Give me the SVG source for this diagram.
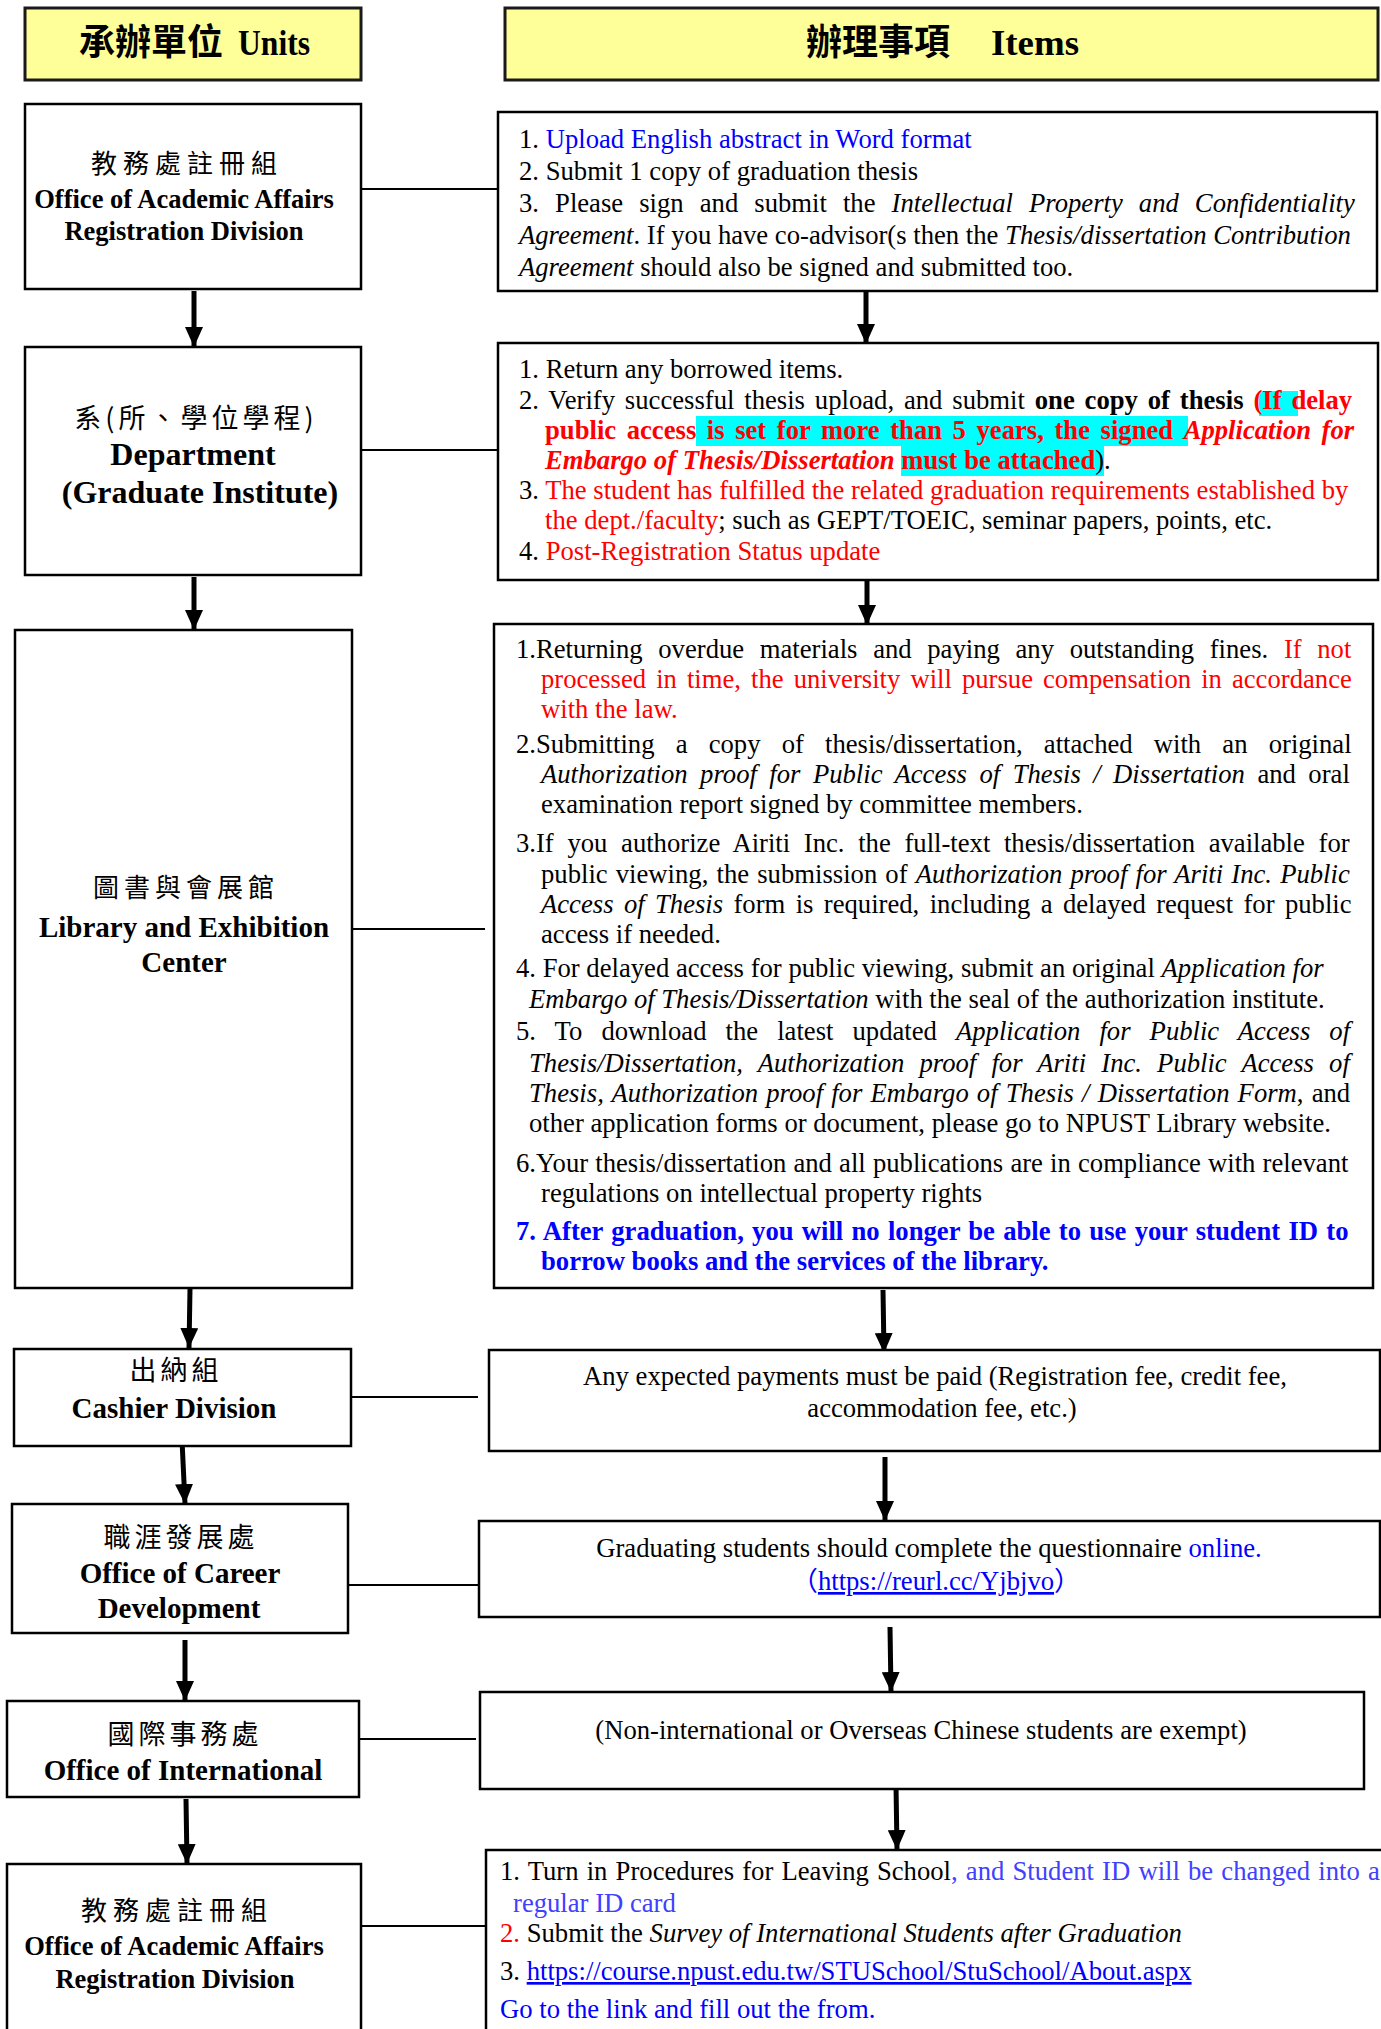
<svg xmlns="http://www.w3.org/2000/svg" width="1381" height="2029" viewBox="0 0 1381 2029">
<defs>
<marker id="ah" markerUnits="userSpaceOnUse" markerWidth="20" markerHeight="18" refX="20" refY="9" orient="auto">
<path d="M0,0 L20,9 L0,18 z" fill="#000"/>
</marker>
</defs>
<style>
.box{fill:#fff;stroke:#000;stroke-width:2.5}
.hdr{fill:#ffff99;stroke:#1a1a1a;stroke-width:3}
.t{font-family:"Liberation Serif","Noto Sans CJK TC",serif;font-size:26.67px;fill:#000}
.lb{font-family:"Liberation Serif","Noto Sans CJK TC",serif;font-weight:bold;fill:#000;text-anchor:middle}
.cj{font-family:"Noto Sans CJK TC",sans-serif;fill:#000;text-anchor:middle}
.hz{font-family:"Noto Sans CJK TC",sans-serif;font-weight:bold;font-size:36px;fill:#000}
.he{font-family:"Liberation Serif",serif;font-weight:bold;font-size:36px;fill:#000}
.i{font-style:italic}
.b{font-weight:bold}
.r{fill:#ff0000}
.bl{fill:#0000ff}
.bl2{fill:#4040ff}
.u{text-decoration:underline}
.hl{fill:#00ffff}
.conn line{stroke:#000;stroke-width:2}
.arr line{stroke:#000;stroke-width:5;marker-end:url(#ah)}
</style>
<rect width="1381" height="2029" fill="#fff"/>

<g id="header-units">
<rect class="hdr" x="25" y="8" width="336" height="72"/>
<text class="hz" x="79" y="55">承辦單位</text>
<text class="he" x="238" y="55" textLength="72" lengthAdjust="spacingAndGlyphs">Units</text>
</g>
<g id="header-items">
<rect class="hdr" x="505" y="8" width="873" height="72"/>
<text class="hz" x="806" y="55">辦理事項</text>
<text class="he" x="991" y="55" textLength="88" lengthAdjust="spacingAndGlyphs">Items</text>
</g>

<g class="conn" id="connectors">
<line x1="361" y1="189" x2="498" y2="189"/>
<line x1="361" y1="450" x2="498" y2="450"/>
<line x1="352" y1="929" x2="485" y2="929"/>
<line x1="351" y1="1397" x2="478" y2="1397"/>
<line x1="348" y1="1585" x2="479" y2="1585"/>
<line x1="359" y1="1739" x2="476" y2="1739"/>
<line x1="361" y1="1926" x2="489" y2="1926"/>
</g>
<g class="arr" id="arrows">
<line x1="194" y1="291" x2="194" y2="347"/>
<line x1="866" y1="292" x2="866" y2="344"/>
<line x1="194" y1="577" x2="194" y2="630"/>
<line x1="867" y1="581" x2="867" y2="625"/>
<line x1="190" y1="1289" x2="189" y2="1348"/>
<line x1="883" y1="1290" x2="884" y2="1353"/>
<line x1="182" y1="1440" x2="185" y2="1504"/>
<line x1="885" y1="1457" x2="885" y2="1521"/>
<line x1="185" y1="1640" x2="185" y2="1701"/>
<line x1="890" y1="1627" x2="891" y2="1692"/>
<line x1="186" y1="1799" x2="187" y2="1864"/>
<line x1="896" y1="1785" x2="897" y2="1850"/>
</g>

<g id="unit-academic-1">
<rect class="box" x="25" y="104" width="336" height="185"/>
<text class="cj" x="187" y="173" font-size="26" letter-spacing="6">教務處註冊組</text>
<text class="lb" x="184" y="208" font-size="26.5">Office of Academic Affairs</text>
<text class="lb" x="184" y="240" font-size="26.5">Registration Division</text>
</g>
<g id="items-academic-1">
<rect class="box" x="498" y="112" width="879" height="179"/>
<text class="t" x="519" y="148">1. <tspan class="bl">Upload English abstract in Word format</tspan></text>
<text class="t" x="519" y="180">2. Submit 1 copy of graduation thesis</text>
<text class="t" x="519" y="212" word-spacing="9.4">3. Please sign and submit the <tspan class="i">Intellectual Property and Confidentiality</tspan></text>
<text class="t" x="519" y="244"><tspan class="i">Agreement</tspan>. If you have co-advisor(s then the <tspan class="i">Thesis/dissertation Contribution</tspan></text>
<text class="t" x="519" y="276"><tspan class="i">Agreement</tspan> should also be signed and submitted too.</text>
</g>

<g id="unit-department">
<rect class="box" x="25" y="347" width="336" height="228"/>
<text class="cj" x="196" y="428" font-size="27" letter-spacing="4">系(所、學位學程)</text>
<text class="lb" x="193" y="465" font-size="32">Department</text>
<text class="lb" x="200" y="503" font-size="32">(Graduate Institute)</text>
</g>
<g id="items-department">
<rect class="box" x="498" y="343" width="880" height="237"/>
<rect class="hl" x="1259" y="391" width="39" height="25"/>
<rect class="hl" x="696" y="416" width="492" height="30"/>
<rect class="hl" x="901" y="446" width="203" height="30"/>
<text class="t" x="519" y="378">1. Return any borrowed items.</text>
<text class="t" x="519" y="409" word-spacing="3.2">2. Verify successful thesis upload, and submit <tspan class="b">one copy of thesis</tspan> <tspan class="b r">(If delay</tspan></text>
<text class="t b r" x="545" y="439" word-spacing="3.9">public access is set for more than 5 years, the signed <tspan class="i">Application for</tspan></text>
<text class="t" x="545" y="469"><tspan class="b r i">Embargo of Thesis/Dissertation</tspan> <tspan class="b r">must be attached</tspan>).</text>
<text class="t" x="519" y="499">3. <tspan class="r">The student has fulfilled the related graduation requirements established by</tspan></text>
<text class="t" x="545" y="529"><tspan class="r">the dept./faculty</tspan>; such as GEPT/TOEIC, seminar papers, points, etc.</text>
<text class="t" x="519" y="560">4. <tspan class="r">Post-Registration Status update</tspan></text>
</g>

<g id="unit-library">
<rect class="box" x="15" y="630" width="337" height="658"/>
<text class="cj" x="186" y="897" font-size="26" letter-spacing="5">圖書與會展館</text>
<text class="lb" x="184" y="937" font-size="29">Library and Exhibition</text>
<text class="lb" x="184" y="972" font-size="29">Center</text>
</g>
<g id="items-library">
<rect class="box" x="494" y="624" width="879" height="664"/>
<text class="t" x="516" y="658" word-spacing="9">1.Returning overdue materials and paying any outstanding fines. <tspan class="r">If not</tspan></text>
<text class="t r" x="541" y="688" word-spacing="3.4">processed in time, the university will pursue compensation in accordance</text>
<text class="t r" x="541" y="718">with the law.</text>
<text class="t" x="516" y="753" word-spacing="14.5">2.Submitting a copy of thesis/dissertation, attached with an original</text>
<text class="t" x="541" y="783" word-spacing="5.8"><tspan class="i">Authorization proof for Public Access of Thesis / Dissertation</tspan> and oral</text>
<text class="t" x="541" y="813">examination report signed by committee members.</text>
<text class="t" x="516" y="852" word-spacing="7">3.If you authorize Airiti Inc. the full-text thesis/dissertation available for</text>
<text class="t" x="541" y="883" word-spacing="1.5">public viewing, the submission of <tspan class="i">Authorization proof for Ariti Inc. Public</tspan></text>
<text class="t" x="541" y="913" word-spacing="3.7"><tspan class="i">Access of Thesis</tspan> form is required, including a delayed request for public</text>
<text class="t" x="541" y="943">access if needed.</text>
<text class="t" x="516" y="977">4. For delayed access for public viewing, submit an original <tspan class="i">Application for</tspan></text>
<text class="t" x="529" y="1008"><tspan class="i">Embargo of Thesis/Dissertation</tspan> with the seal of the authorization institute.</text>
<text class="t" x="516" y="1040" word-spacing="12.4">5. To download the latest updated <tspan class="i">Application for Public Access of</tspan></text>
<text class="t i" x="529" y="1072" word-spacing="8.5">Thesis/Dissertation, Authorization proof for Ariti Inc. Public Access of</text>
<text class="t" x="529" y="1102" word-spacing="1.5"><tspan class="i">Thesis, Authorization proof for Embargo of Thesis / Dissertation Form</tspan>, and</text>
<text class="t" x="529" y="1132">other application forms or document, please go to NPUST Library website.</text>
<text class="t" x="516" y="1172" word-spacing="0.5">6.Your thesis/dissertation and all publications are in compliance with relevant</text>
<text class="t" x="541" y="1202">regulations on intellectual property rights</text>
<text class="t b bl" x="516" y="1240" word-spacing="1.6">7. After graduation, you will no longer be able to use your student ID to</text>
<text class="t b bl" x="541" y="1270">borrow books and the services of the library.</text>
</g>

<g id="unit-cashier">
<rect class="box" x="14" y="1349" width="337" height="97"/>
<text class="cj" x="176" y="1380" font-size="27" letter-spacing="4">出納組</text>
<text class="lb" x="174" y="1418" font-size="29">Cashier Division</text>
</g>
<g id="items-cashier">
<rect class="box" x="489" y="1350" width="891" height="101"/>
<text class="t" x="935" y="1385" text-anchor="middle">Any expected payments must be paid (Registration fee, credit fee,</text>
<text class="t" x="942" y="1417" text-anchor="middle">accommodation fee, etc.)</text>
</g>

<g id="unit-career">
<rect class="box" x="12" y="1504" width="336" height="129"/>
<text class="cj" x="181" y="1547" font-size="27" letter-spacing="4">職涯發展處</text>
<text class="lb" x="180" y="1583" font-size="29">Office of Career</text>
<text class="lb" x="179" y="1618" font-size="29">Development</text>
</g>
<g id="items-career">
<rect class="box" x="479" y="1521" width="901" height="96"/>
<text class="t" x="929" y="1557" text-anchor="middle">Graduating students should complete the questionnaire <tspan class="bl">online.</tspan></text>
<text class="t bl" x="936" y="1590" text-anchor="middle">（<tspan class="u">https://reurl.cc/Yjbjvo</tspan>）</text>
</g>

<g id="unit-international">
<rect class="box" x="7" y="1701" width="352" height="96"/>
<text class="cj" x="185" y="1744" font-size="27" letter-spacing="4">國際事務處</text>
<text class="lb" x="183" y="1780" font-size="29">Office of International</text>
</g>
<g id="items-international">
<rect class="box" x="480" y="1692" width="884" height="97"/>
<text class="t" x="921" y="1739" text-anchor="middle">(Non-international or Overseas Chinese students are exempt)</text>
</g>

<g id="unit-academic-2">
<rect class="box" x="7" y="1864" width="354" height="220"/>
<text class="cj" x="177" y="1920" font-size="26" letter-spacing="6">教務處註冊組</text>
<text class="lb" x="174" y="1955" font-size="26.5">Office of Academic Affairs</text>
<text class="lb" x="175" y="1988" font-size="26.5">Registration Division</text>
</g>
<g id="items-academic-2">
<rect class="box" x="486" y="1850" width="950" height="250"/>
<text class="t" x="500" y="1880" word-spacing="1.5">1. Turn in Procedures for Leaving School<tspan class="bl2">, and Student ID will be changed into a</tspan></text>
<text class="t bl2" x="513" y="1912">regular ID card</text>
<text class="t" x="500" y="1942"><tspan class="r">2.</tspan> Submit the <tspan class="i">Survey of International Students after Graduation</tspan></text>
<text class="t" x="500" y="1980">3. <tspan class="bl u">https://course.npust.edu.tw/STUSchool/StuSchool/About.aspx</tspan></text>
<text class="t bl" x="500" y="2018">Go to the link and fill out the from.</text>
</g>
</svg>
